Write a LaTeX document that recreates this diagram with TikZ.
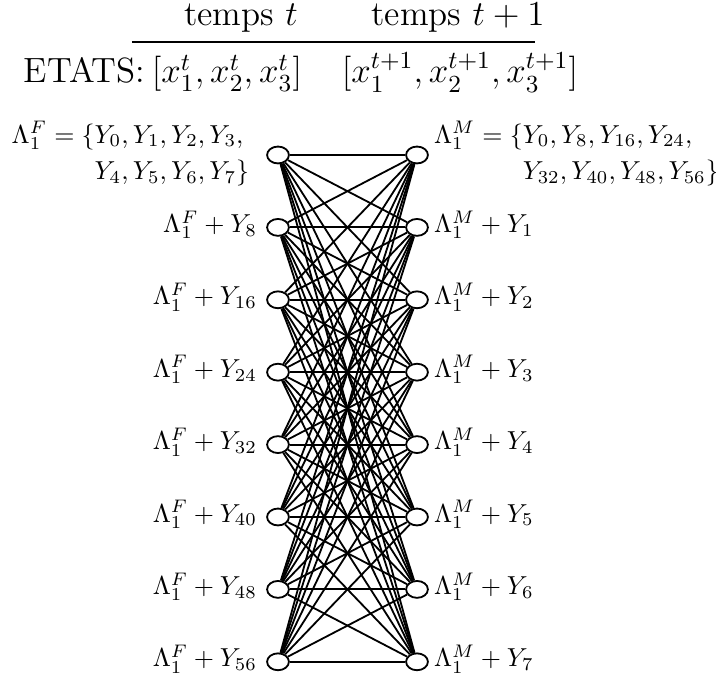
\RequirePackage{fix-cm}
\documentclass[tikz,border=0pt]{standalone}
\usepackage{amsmath,amssymb}
\usetikzlibrary{shapes.geometric,positioning}

\tikzset{etat/.style={ellipse, draw, line width=0.7pt, fill=white, minimum width=8.4pt, minimum height=6.5pt, inner sep=0pt},
  entete/.style={font=\fontsize{13.5}{16}\selectfont, anchor=base},
  etiq/.style={yshift=1pt}}

\begin{document}
\begin{tikzpicture}[x=0.385pt, y=-0.385pt]
\useasboundingbox (0,0) rectangle (716,673);
% header: times and states
\node[entete] (tt)  at (241,26) {temps $t$};
\node[entete] (tt1) at (458,26) {temps $t+1$};
\draw[line width=0.5pt] (132,42) -- (535,42);
\node[entete] (st)  at (227,83) {$[x_1^t,x_2^t,x_3^t]$};
\node[entete] (st1) at (460,83) {$[x_1^{t+1},x_2^{t+1},x_3^{t+1}]$};
\node[entete, anchor=base east, xshift=4.5pt] (etats) at (st.base west) {ETATS:};
% states of both columns
\foreach \i in {1,...,8} {
  \node[etat] (l\i) at (278,82.6+72.4*\i) {};
  \node[etat] (r\i) at (417,82.6+72.4*\i) {};
}
% all transitions
\foreach \i in {1,...,8} {
  \foreach \j in {1,...,8} {
    \draw[line width=0.7pt] (l\i) -- (r\j);
  }
}
% labels
\node[left=3pt of l1] (fl1) {$\begin{array}{@{}r@{}l@{}}\Lambda_1^F=\{&Y_0,Y_1,Y_2,Y_3,\\[2pt] &Y_4,Y_5,Y_6,Y_7\}\end{array}$};
\node[right=-1.5pt of r1] (mr1) {$\begin{array}{@{}r@{}l@{}}\Lambda_1^M=\{&Y_0,Y_8,Y_{16},Y_{24},\\[2pt] &Y_{32},Y_{40},Y_{48},Y_{56}\}\end{array}$};
\foreach \i/\k in {2/8,3/16,4/24,5/32,6/40,7/48,8/56} {
  \node[etiq, left=0pt of l\i] (fl\i) {$\Lambda_1^F+Y_{\k}$};
}
\foreach \i/\k in {2/1,3/2,4/3,5/4,6/5,7/6,8/7} {
  \node[etiq, right=-1.5pt of r\i] (mr\i) {$\Lambda_1^M+Y_{\k}$};
}
\end{tikzpicture}
\end{document}
